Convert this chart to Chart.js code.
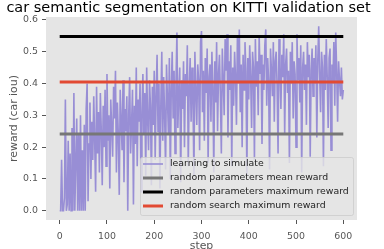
<!DOCTYPE html>
<html>
<head>
<meta charset="utf-8">
<script src="https://cdn.jsdelivr.net/npm/chart.js@4.4.1/dist/chart.umd.min.js"></script>
<style>
  html, body { margin: 0; padding: 0; background: #fff; }
  #wrap { width: 384px; height: 249px; }
</style>
</head>
<body>
<div id="wrap"><canvas id="chart" width="384" height="249"></canvas></div>
<script>
// ============================================
// car semantic segmentation on KITTI - reward curve
// ============================================

const STEP_EVERY = 2;
const rewards = [
  0.00, 0.00, 0.16, 0.00, 0.00, 0.04, 0.35, 0.00, 0.02, 0.22,
  0.00, 0.18, 0.00, 0.26, 0.00, 0.37, 0.00, 0.15, 0.29, 0.00,
  0.24, 0.00, 0.30, 0.00, 0.19, 0.00, 0.27, 0.00, 0.32, 0.40,
  0.03, 0.21, 0.34, 0.10, 0.28, 0.16, 0.36, 0.22, 0.06, 0.39,
  0.18, 0.31, 0.12, 0.37, 0.25, 0.08, 0.33, 0.20, 0.38, 0.14,
  0.43, 0.22, 0.30, 0.07, 0.35, 0.26, 0.17, 0.39, 0.29, 0.44,
  0.12, 0.34, 0.24, 0.05, 0.38, 0.28, 0.19, 0.41, 0.09, 0.32,
  0.25, 0.36, 0.00, 0.30, 0.42, 0.18, 0.27, 0.38, 0.02, 0.33,
  0.21, 0.45, 0.14, 0.35, 0.28, 0.40, 0.06, 0.31, 0.43, 0.24,
  0.37, 0.11, 0.45, 0.29, 0.19, 0.41, 0.33, 0.08, 0.39, 0.27,
  0.44, 0.16, 0.36, 0.49, 0.25, 0.40, 0.07, 0.34, 0.50, 0.22,
  0.42, 0.30, 0.13, 0.46, 0.35, 0.24, 0.48, 0.10, 0.38, 0.50,
  0.29, 0.44, 0.18, 0.40, 0.56, 0.26, 0.37, 0.45, 0.09, 0.41,
  0.32, 0.47, 0.20, 0.43, 0.36, 0.52, 0.14, 0.39, 0.48, 0.28,
  0.45, 0.34, 0.11, 0.50, 0.38, 0.27, 0.46, 0.41, 0.19, 0.53,
  0.565, 0.31, 0.44, 0.22, 0.48, 0.37, 0.51, 0.15, 0.42, 0.46,
  0.28, 0.50, 0.39, 0.12, 0.47, 0.34, 0.53, 0.25, 0.43, 0.49,
  0.36, 0.18, 0.51, 0.41, 0.30, 0.54, 0.44, 0.555, 0.23, 0.47,
  0.38, 0.52, 0.14, 0.45, 0.33, 0.50, 0.42, 0.27, 0.55, 0.40,
  0.57, 0.31, 0.46, 0.20, 0.49, 0.38, 0.53, 0.44, 0.11, 0.48,
  0.35, 0.52, 0.42, 0.26, 0.50, 0.45, 0.16, 0.54, 0.39, 0.47,
  0.30, 0.55, 0.43, 0.49, 0.21, 0.46, 0.38, 0.52, 0.57, 0.33,
  0.48, 0.41, 0.13, 0.51, 0.44, 0.36, 0.53, 0.28, 0.47, 0.50,
  0.39, 0.18, 0.54, 0.45, 0.32, 0.49, 0.42, 0.555, 0.24, 0.46,
  0.51, 0.37, 0.44, 0.15, 0.50, 0.40, 0.53, 0.29, 0.47, 0.43,
  0.20, 0.555, 0.41, 0.48, 0.34, 0.52, 0.12, 0.45, 0.50, 0.38,
  0.46, 0.27, 0.53, 0.42, 0.49, 0.17, 0.44, 0.51, 0.36, 0.48,
  0.40, 0.52, 0.23, 0.47, 0.58, 0.43, 0.31, 0.50, 0.45, 0.14,
  0.49, 0.38, 0.54, 0.42, 0.26, 0.48, 0.51, 0.19, 0.46, 0.40,
  0.53, 0.33, 0.56, 0.44, 0.28, 0.47, 0.41, 0.36, 0.45, 0.35,
  0.38
];

const meanRandomReward = 0.241;
const maxRandomReward = 0.548;
const maxSearchReward = 0.405;
const baselineSpan = [0, 600];

const xTicks = [0, 100, 200, 300, 400, 500, 600];
const yTicks = [0.0, 0.1, 0.2, 0.3, 0.4, 0.5, 0.6];

const chartTitle = 'car semantic segmentation on KITTI validation set';
const labels = [
  'learning to simulate',
  'random parameters mean reward',
  'random parameters maximum reward',
  'random search maximum reward'
];

const FONT = 'DejaVu Sans';
const PLOT_BG = '#E5E5E5';

function flatLine(v) {
  return baselineSpan.map(x => ({ x, y: v }));
}

// grey plot background (ggplot look)
const plotBackground = {
  id: 'plotBackground',
  beforeDatasetsDraw(chart) {
    const { ctx, chartArea: a } = chart;
    ctx.save();
    ctx.fillStyle = PLOT_BG;
    ctx.fillRect(a.left, a.top, a.right - a.left, a.bottom - a.top);
    ctx.restore();
  }
};

// title sits a bit left of the plot centre in the original
const topTitle = {
  id: 'topTitle',
  afterDraw(chart) {
    const { ctx } = chart;
    ctx.save();
    ctx.font = `14.5px "${FONT}"`;
    ctx.fillStyle = '#000';
    ctx.textAlign = 'center';
    ctx.textBaseline = 'middle';
    ctx.fillText(chartTitle, 188.5, 8.5);
    ctx.restore();
  }
};

// legend drawn inside the plot, lower right, like matplotlib
const insideLegend = {
  id: 'insideLegend',
  afterDatasetsDraw(chart) {
    const { ctx, chartArea: a } = chart;
    const w = 213, h = 58;
    const left = a.right - 4 - w;
    const top = a.bottom - 5 - h;

    ctx.save();
    ctx.beginPath();
    ctx.roundRect(left + 0.5, top + 0.5, w, h, 2);
    ctx.fillStyle = 'rgba(229,229,229,0.8)';
    ctx.fill();
    ctx.strokeStyle = 'rgba(204,204,204,0.8)';
    ctx.lineWidth = 1;
    ctx.stroke();

    ctx.font = `9.35px "${FONT}"`;
    ctx.textBaseline = 'middle';
    chart.data.datasets.forEach((ds, i) => {
      const cy = top + 7 + i * 14;
      ctx.beginPath();
      ctx.moveTo(left + 3, cy);
      ctx.lineTo(left + 23, cy);
      ctx.strokeStyle = ds.borderColor;
      ctx.lineWidth = ds.borderWidth;
      ctx.stroke();
      ctx.fillStyle = '#222';
      ctx.fillText(ds.label, left + 30, cy);
    });
    ctx.restore();
  }
};

new Chart(document.getElementById('chart').getContext('2d'), {
  type: 'line',
  data: {
    datasets: [
      {
        label: labels[0],
        data: rewards.map((v, i) => ({ x: i * STEP_EVERY, y: v })),
        borderColor: '#988ED5',
        borderWidth: 1.6,
        order: 4
      },
      { label: labels[1], data: flatLine(meanRandomReward), borderColor: '#777777', borderWidth: 3, order: 3 },
      { label: labels[2], data: flatLine(maxRandomReward), borderColor: '#000000', borderWidth: 3, order: 2 },
      { label: labels[3], data: flatLine(maxSearchReward), borderColor: '#E24A33', borderWidth: 3, order: 1 }
    ]
  },
  options: {
    responsive: false,
    animation: false,
    devicePixelRatio: 1,
    layout: { padding: { left: 0, right: 27, top: 17, bottom: 0 } },
    elements: { point: { radius: 0 }, line: { tension: 0 } },
    plugins: {
      legend: { display: false },
      tooltip: { enabled: false },
      title: { display: false }
    },
    scales: {
      x: {
        type: 'linear',
        min: -29,
        max: 629,
        afterBuildTicks: s => { s.ticks = xTicks.map(v => ({ value: v })); },
        afterFit: s => { s.height = 29; },
        border: { display: false },
        grid: { drawOnChartArea: false, tickLength: 4, tickColor: '#555', tickWidth: 1 },
        ticks: { color: '#555', font: { family: FONT, size: 9.4 }, padding: 7, maxRotation: 0 },
        title: { display: true, text: 'step', color: '#555', font: { family: FONT, size: 10.9 }, padding: { top: 0, bottom: -4 } }
      },
      y: {
        min: -0.029,
        max: 0.609,
        afterBuildTicks: s => { s.ticks = yTicks.map(v => ({ value: v })); },
        afterFit: s => { s.width = 46; },
        border: { display: false },
        grid: { drawOnChartArea: false, tickLength: 4, tickColor: '#555', tickWidth: 1 },
        ticks: { color: '#555', font: { family: FONT, size: 9.4 }, padding: 4, callback: v => v.toFixed(1) },
        title: { display: true, text: 'reward (car iou)', color: '#555', font: { family: FONT, size: 10.9 }, padding: { top: 8, bottom: 0 } }
      }
    }
  },
  plugins: [plotBackground, insideLegend, topTitle]
});
</script>
</body>
</html>
